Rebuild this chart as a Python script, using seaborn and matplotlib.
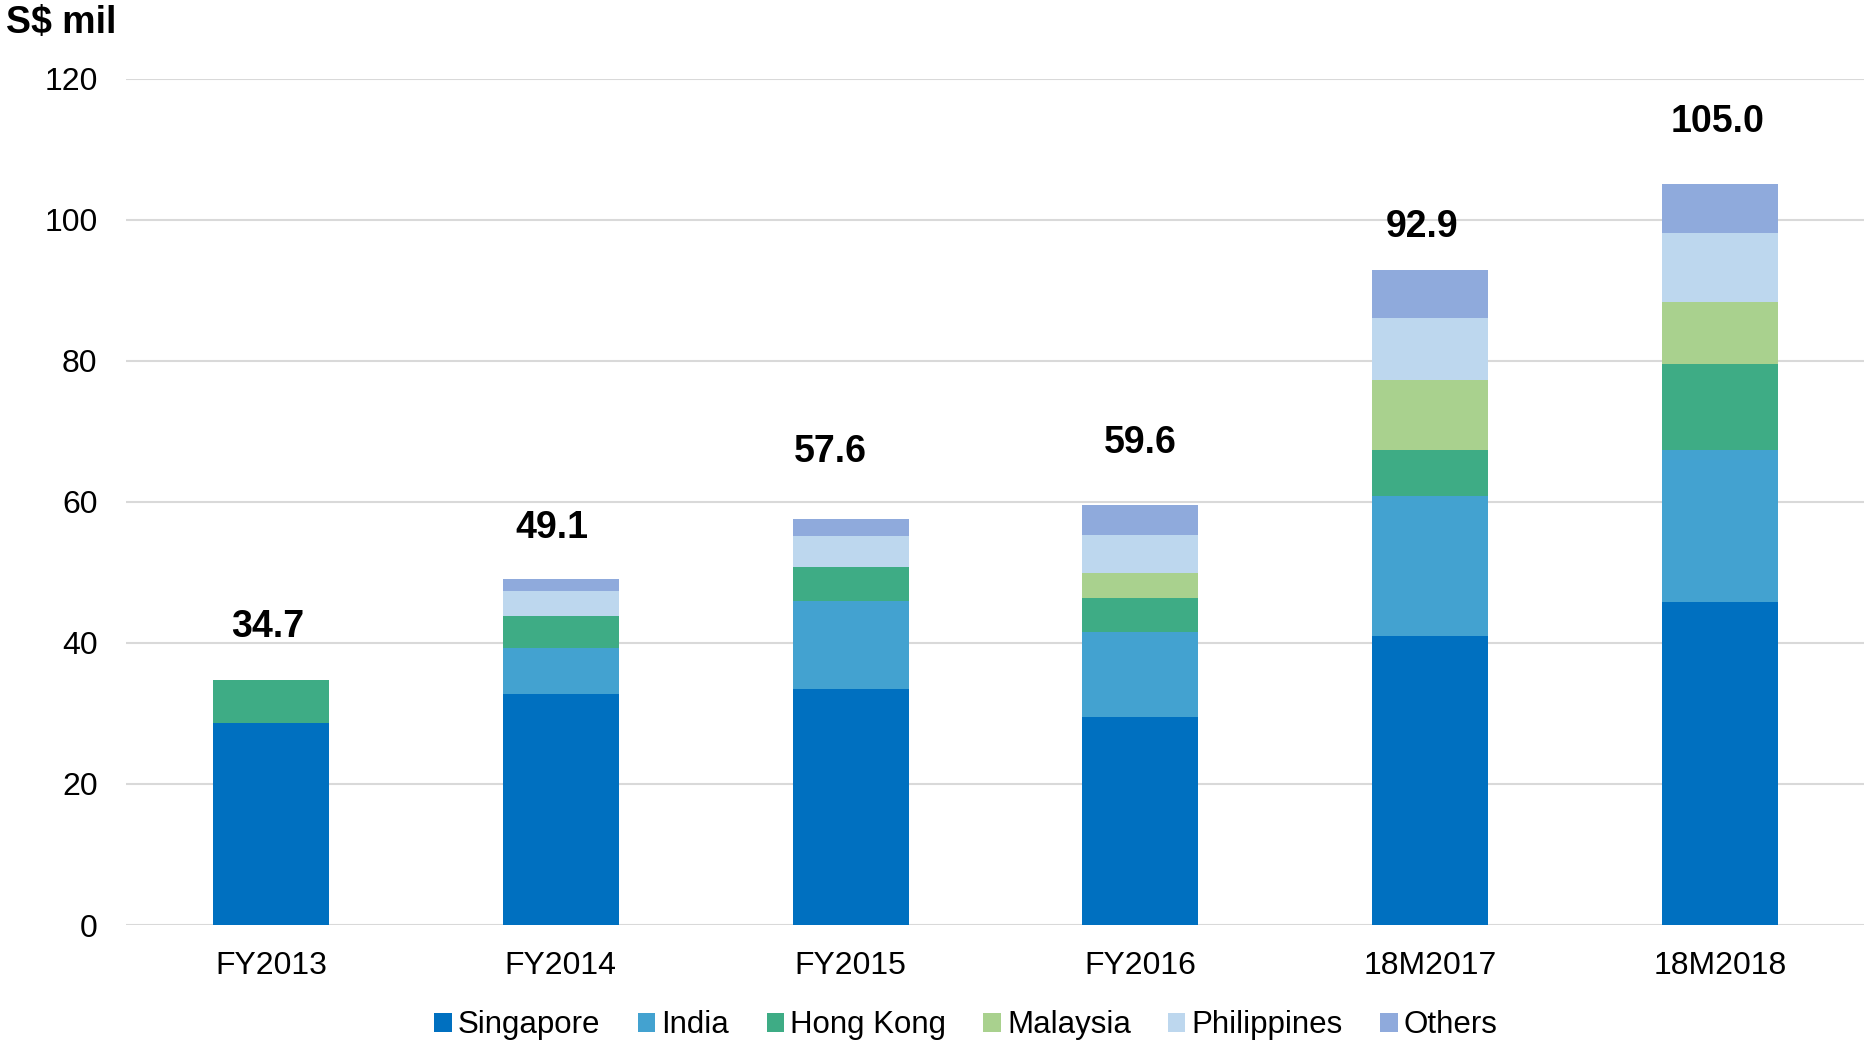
import pandas as pd
import matplotlib.pyplot as plt
import seaborn as sns
from matplotlib.patches import Patch

# chart data
periods = ["FY2013", "FY2014", "FY2015", "FY2016", "18M2017", "18M2018"]
regions = ["Singapore", "India", "Hong Kong", "Malaysia", "Philippines", "Others"]

singapore = [28.6, 32.7, 33.4, 29.5, 41.0, 45.8]
india = [0.0, 6.6, 12.6, 12.1, 19.8, 21.5]
hong_kong = [6.1, 4.5, 4.7, 4.8, 6.5, 12.3]
malaysia = [0.0, 0.0, 0.0, 3.5, 9.9, 8.7]
philippines = [0.0, 3.6, 4.4, 5.4, 8.8, 9.8]
others = [0.0, 1.7, 2.5, 4.3, 6.9, 6.9]

totals = [34.7, 49.1, 57.6, 59.6, 92.9, 105.0]

colors = ["#0070C0", "#43A2D0", "#3EAC85", "#A9D18E", "#BDD7EE", "#8FAADC"]

# label placement tweaks (x in categories, y in data units above the bar)
label_dx = [-0.01, -0.03, -0.07, 0.0, -0.03, -0.01]
label_dy = [7.6, 7.2, 9.5, 8.8, 6.0, 8.8]

sns.set_style("white")
plt.rcParams['font.family'] = ['Liberation Sans', 'DejaVu Sans']
plt.rcParams['text.color'] = 'black'
plt.rcParams['xtick.color'] = 'black'
plt.rcParams['ytick.color'] = 'black'

df = pd.DataFrame({
    "period": periods,
    "Singapore": singapore,
    "India": india,
    "Hong Kong": hong_kong,
    "Malaysia": malaysia,
    "Philippines": philippines,
    "Others": others,
})

# cumulative heights for stacking
cum = df[regions].cumsum(axis=1)
cum["period"] = periods

fig = plt.figure(figsize=(18.65, 10.43), dpi=100)
ax = fig.add_axes([0.0676, 0.1131, 0.9324, 0.8116])

# draw the tallest layer first so lower layers sit on top
for region, color in reversed(list(zip(regions, colors))):
    sns.barplot(
        data=cum,
        x="period",
        y=region,
        color=color,
        width=0.4,
        saturation=1,
        linewidth=0,
        ax=ax
    )

ax.set_ylim(0, 120)
ax.set_xlim(-0.5, 5.5)
ax.set_yticks(range(0, 121, 20))
ax.set_xlabel("")
ax.set_ylabel("")

ax.grid(axis='y', color='#D9D9D9', linewidth=1.5)
ax.set_axisbelow(True)
for s in ax.spines.values():
    s.set_visible(False)

ax.tick_params(axis='y', length=0, pad=20.5, labelsize=23)
ax.tick_params(axis='x', length=0, pad=19, labelsize=23)

# total labels above bars
for i, t in enumerate(totals):
    ax.text(i + label_dx[i], t + label_dy[i], f"{t:.1f}",
            ha='center', va='center', fontsize=27, fontweight='bold')

fig.text(0.003, 0.978, "S$ mil", fontsize=27, fontweight='bold',
         ha='left', va='center')

handles = [Patch(facecolor=c, edgecolor='none') for c in colors]
fig.legend(
    handles, regions,
    loc='center',
    bbox_to_anchor=(0.518, 0.017),
    ncol=6,
    frameon=False,
    fontsize=22.5,
    handlelength=0.55,
    handleheight=0.55,
    handletextpad=0.2,
    columnspacing=1.2
)

plt.savefig("out.png", dpi=100)
